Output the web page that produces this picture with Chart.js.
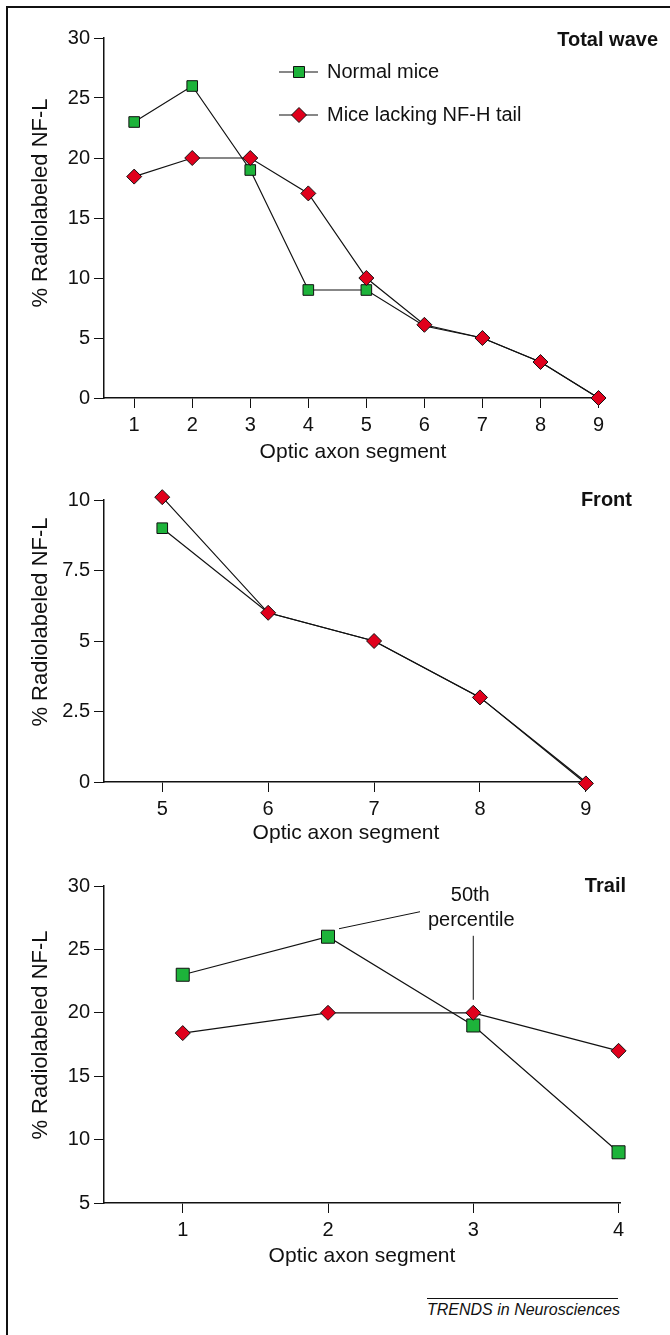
<!DOCTYPE html>
<html>
<head>
<meta charset="utf-8">
<script src="https://cdn.jsdelivr.net/npm/chart.js@4.4.0/dist/chart.umd.min.js"></script>
<style>
  body { margin: 0; background: #fff; }
  #page { position: relative; width: 670px; height: 1335px; overflow: hidden; font-family: "Liberation Sans", Arial, sans-serif; }
  #frame { position: absolute; left: 6px; top: 6px; width: 700px; height: 1400px; border-left: 2px solid #111; border-top: 2px solid #111; }
  canvas { position: absolute; left: 0; }
  #footer { position: absolute; left: 427px; top: 1298px; width: 191px; border-top: 1px solid #111; text-align: right;
            white-space: nowrap; font-style: italic; font-size: 16px; line-height: 19px; color: #111; padding-top: 1px; }
</style>
</head>
<body>
<div id="page">
  <div id="frame"></div>
  <canvas id="totalChart" width="670" height="470" style="top:0px"></canvas>
  <canvas id="frontChart" width="670" height="404" style="top:450px"></canvas>
  <canvas id="trailChart" width="670" height="405" style="top:870px"></canvas>
  <div id="footer">TRENDS in Neurosciences</div>
</div>
<script>
const seriesNames = ['Normal mice', 'Mice lacking NF-H tail']

// Total wave
const totalSegments = [1, 2, 3, 4, 5, 6, 7, 8, 9]
const totalNormal = [23, 26, 19, 9, 9, 6, 5, 3, 0]
const totalLacking = [18.45, 20, 20, 17.05, 10, 6.1, 5, 3, 0]
const totalYTicks = [0, 5, 10, 15, 20, 25, 30]

// Front
const frontSegments = [5, 6, 7, 8, 9]
const frontNormal = [9, 6, 5, 3, 0]
const frontLacking = [10.1, 6, 5, 3, -0.05]
const frontYTicks = [0, 2.5, 5, 7.5, 10]

// Trail
const trailSegments = [1, 2, 3, 4]
const trailNormal = [23, 26, 19, 9]
const trailLacking = [18.4, 20, 20, 17]
const trailYTicks = [5, 10, 15, 20, 25, 30]

const GREEN = '#1db33a'
const RED = '#e0001c'
const INK = '#111'
const FONT = '"Liberation Sans", Arial, sans-serif'

function toXY(xs, ys) {
    return xs.map((x, i) => ({ x: x, y: ys[i] }))
}

function drawText(ctx, text, x, y, font, align) {
    ctx.save()
    ctx.fillStyle = INK
    ctx.font = font
    ctx.textAlign = align || 'center'
    ctx.textBaseline = 'middle'
    ctx.fillText(text, x, y)
    ctx.restore()
}

function yTitle(ctx, cy) {
    ctx.save()
    ctx.translate(41, cy)
    ctx.rotate(-Math.PI / 2)
    ctx.fillStyle = INK
    ctx.font = '22px ' + FONT
    ctx.textAlign = 'center'
    ctx.textBaseline = 'middle'
    ctx.fillText('% Radiolabeled NF-L', 0, 0)
    ctx.restore()
}

function makePanel(id, p) {
    const ctx = document.getElementById(id)
    new Chart(ctx, {
        type: 'line',
        data: {
            datasets: [{
                label: seriesNames[0],
                data: toXY(p.segments, p.normal),
                order: 2,
                borderColor: INK,
                borderWidth: 1.2,
                backgroundColor: GREEN,
                pointStyle: 'rect',
                pointBorderColor: INK,
                pointBorderWidth: 1,
                // hide the square where the red diamond sits on the same spot
                pointRadius: c => Math.abs(p.normal[c.dataIndex] - p.lacking[c.dataIndex]) < 0.3 ? 0 : p.rectSize,
                clip: false,
            }, {
                label: seriesNames[1],
                data: toXY(p.segments, p.lacking),
                order: 1,
                borderColor: INK,
                borderWidth: 1.2,
                backgroundColor: RED,
                pointStyle: 'rectRot',
                pointBorderColor: INK,
                pointBorderWidth: 1,
                pointRadius: 7.5,
                clip: false,
            }]
        },
        options: {
            responsive: false,
            animation: false,
            layout: { padding: { top: p.padTop, right: p.padRight, left: 0, bottom: 0 } },
            scales: {
                x: {
                    type: 'linear',
                    min: p.xMin,
                    max: p.xMax,
                    afterBuildTicks: s => { s.ticks = p.segments.map(v => ({ value: v })) },
                    afterFit: s => { s.height = 72 },
                    grid: { drawOnChartArea: false, drawTicks: true, tickLength: 10, color: INK },
                    border: { display: true, color: INK, width: 1.5 },
                    ticks: { color: INK, padding: 5, font: { size: 20, family: FONT } },
                    title: {
                        display: true,
                        text: 'Optic axon segment',
                        color: INK,
                        padding: { top: 0, bottom: p.titlePad },
                        font: { size: 21, family: FONT }
                    }
                },
                y: {
                    min: p.yTicks[0],
                    max: p.yTicks[p.yTicks.length - 1],
                    afterBuildTicks: s => { s.ticks = p.yTicks.map(v => ({ value: v })) },
                    afterFit: s => { s.width = 104 },
                    grid: { drawOnChartArea: false, drawTicks: true, tickLength: 10, color: INK },
                    border: { display: true, color: INK, width: 1.5 },
                    ticks: { color: INK, padding: 4, font: { size: 20, family: FONT } }
                }
            },
            plugins: {
                legend: { display: false },
                tooltip: { enabled: false }
            }
        },
        plugins: [{
            id: 'extras',
            afterDraw: chart => {
                const c = chart.ctx
                yTitle(c, p.yTitleY)
                drawText(c, p.name, p.nameX, p.nameY, 'bold 20px ' + FONT, 'right')
                if (p.extra) p.extra(chart)
            }
        }]
    })
}

function legendRow(c, y, color, style, text) {
    c.save()
    c.strokeStyle = INK
    c.lineWidth = 1.2
    c.beginPath()
    c.moveTo(279, y)
    c.lineTo(318, y)
    c.stroke()
    c.fillStyle = color
    c.lineWidth = 1
    c.beginPath()
    if (style === 'rect') {
        c.rect(293.5, y - 5.5, 11, 11)
    } else {
        c.moveTo(299, y - 7.5)
        c.lineTo(306.5, y)
        c.lineTo(299, y + 7.5)
        c.lineTo(291.5, y)
        c.closePath()
    }
    c.fill()
    c.stroke()
    c.restore()
    drawText(c, text, 327, y, '20px ' + FONT, 'left')
}

makePanel('totalChart', {
    segments: totalSegments, normal: totalNormal, lacking: totalLacking, yTicks: totalYTicks,
    xMin: 0.48, xMax: 9.06, padTop: 38, padRight: 68, titlePad: 5, rectSize: 7.5,
    yTitleY: 203, name: 'Total wave', nameX: 658, nameY: 40,
    extra: chart => {
        legendRow(chart.ctx, 72, GREEN, 'rect', seriesNames[0])
        legendRow(chart.ctx, 115, RED, 'rectRot', seriesNames[1])
    }
})

makePanel('frontChart', {
    segments: frontSegments, normal: frontNormal, lacking: frontLacking, yTicks: frontYTicks,
    xMin: 4.45, xMax: 9.02, padTop: 50, padRight: 82, titlePad: 8, rectSize: 7.5,
    yTitleY: 172, name: 'Front', nameX: 632, nameY: 50
})

makePanel('trailChart', {
    segments: trailSegments, normal: trailNormal, lacking: trailLacking, yTicks: trailYTicks,
    xMin: 0.458, xMax: 4.01, padTop: 15, padRight: 50, titlePad: 6, rectSize: 9.2,
    yTitleY: 165, name: 'Trail', nameX: 626, nameY: 16,
    extra: chart => {
        const c = chart.ctx
        const xs = chart.scales.x
        const ys = chart.scales.y
        // 50th percentile callouts
        const gx = xs.getPixelForValue(trailSegments[1])
        const gy = ys.getPixelForValue(trailNormal[1])
        const rx = xs.getPixelForValue(trailSegments[2])
        const ry = ys.getPixelForValue(trailLacking[2])
        c.save()
        c.strokeStyle = INK
        c.lineWidth = 1
        c.beginPath()
        c.moveTo(gx + 11, gy - 8)
        c.lineTo(gx + 92, gy - 25)
        c.moveTo(rx, ry - 13)
        c.lineTo(rx, ry - 77)
        c.stroke()
        c.restore()
        drawText(c, '50th', rx - 3, ry - 117, '20px ' + FONT, 'center')
        drawText(c, 'percentile', rx - 2, ry - 92, '20px ' + FONT, 'center')
    }
})
</script>
</body>
</html>
